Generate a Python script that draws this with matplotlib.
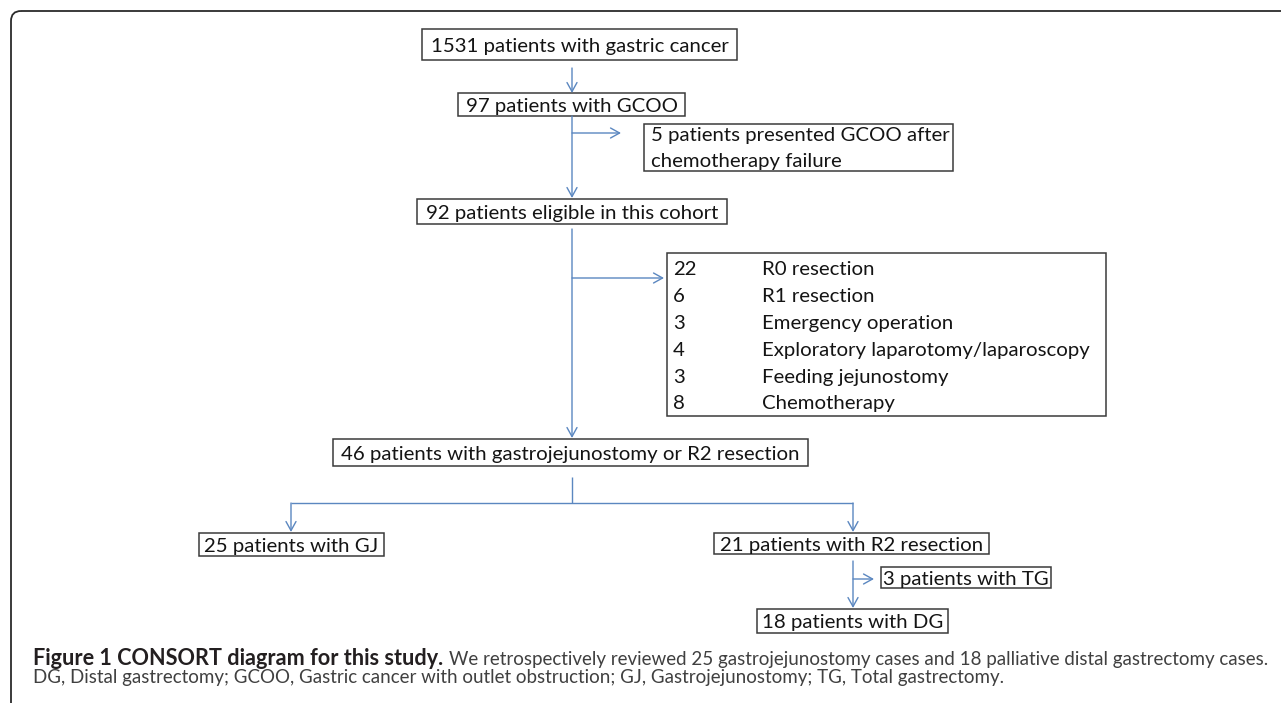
import matplotlib
matplotlib.use("Agg")
import matplotlib.pyplot as plt
from matplotlib.patches import Rectangle, FancyBboxPatch, FancyArrowPatch

# ---------------- data ----------------
total_patients = 1531
gcoo_patients = 97
chemo_failure_patients = 5
eligible_patients = 92
gj_or_r2_patients = 46
gj_patients = 25
r2_patients = 21
tg_patients = 3
dg_patients = 18
excluded_counts = [22, 6, 3, 4, 3, 8]
excluded_reasons = ["R0 resection", "R1 resection", "Emergency operation",
                    "Exploratory laparotomy/laparoscopy", "Feeding jejunostomy",
                    "Chemotherapy"]
caption_bold = "Figure 1 CONSORT diagram for this study."
caption_rest = ("We retrospectively reviewed 25 gastrojejunostomy cases and "
                "18 palliative distal gastrectomy cases.")
caption_line2 = ("DG, Distal gastrectomy; GCOO, Gastric cancer with outlet obstruction; "
                 "GJ, Gastrojejunostomy; TG, Total gastrectomy.")

# ---------------- figure ----------------
W, H = 1281, 703
fig = plt.figure(figsize=(W / 100, H / 100), dpi=100)
ax = fig.add_axes([0, 0, 1, 1])
ax.set_xlim(0, W)
ax.set_ylim(H, 0)
ax.axis("off")
renderer = fig.canvas.get_renderer()

BOX_FONT = "Lato"
CAP_FONT = "Lato"
BOX_EC = "#3a3a3a"
ARROW_C = "#5b87c0"
TEXT_C = "#141414"


def text_width(s, size, family, weight="normal"):
    t = ax.text(0, 0, s, fontsize=size, family=family, weight=weight)
    w = t.get_window_extent(renderer).width
    t.remove()
    return w


# outer frame (rounded top-left corner, right/bottom run off the page)
frame = FancyBboxPatch((11, 11), 1320, 730,
                       boxstyle="round,pad=0,rounding_size=10",
                       fc="none", ec="#2b2b2b", lw=1.3)
ax.add_patch(frame)

# font size for boxes fitted on first box text width
t1 = f"{total_patients} patients with gastric cancer"
fs = 20 * 298 / text_width(t1, 20, BOX_FONT)
cap_px = 0.72 * fs * 100 / 72


def box(x0, y0, x1, y1, label=None):
    ax.add_patch(Rectangle((x0, y0), x1 - x0, y1 - y0, fc="white",
                           ec=BOX_EC, lw=1.1))
    if label is not None:
        ax.text((x0 + x1) / 2, (y0 + y1) / 2 + cap_px / 2, label,
                fontsize=fs, family=BOX_FONT, color=TEXT_C,
                ha="center", va="baseline")


def arrow(p0, p1):
    ax.add_patch(FancyArrowPatch(p0, p1,
                                 arrowstyle="->,head_length=0.65,head_width=0.36",
                                 mutation_scale=10, color=ARROW_C, lw=1.0,
                                 shrinkA=0, shrinkB=0))


def line(p0, p1):
    ax.plot([p0[0], p1[0]], [p0[1], p1[1]], color=ARROW_C, lw=1.0,
            solid_capstyle="butt")


# boxes
box(422, 29, 737, 60, t1)
box(458, 93, 685, 116, f"{gcoo_patients} patients with GCOO")
box(644, 124, 953, 171)
ax.text(651, 134 + cap_px / 2,
        f"{chemo_failure_patients} patients presented GCOO after",
        fontsize=fs, family=BOX_FONT, color=TEXT_C, va="baseline")
ax.text(651, 160 + cap_px / 2, "chemotherapy failure",
        fontsize=fs, family=BOX_FONT, color=TEXT_C, va="baseline")
box(417, 199, 727, 224, f"{eligible_patients} patients eligible in this cohort")

box(667, 253, 1106, 416)
row_y0, row_dy = 268, 26.8
for i, (n, reason) in enumerate(zip(excluded_counts, excluded_reasons)):
    y = row_y0 + i * row_dy + cap_px / 2
    ax.text(673, y, str(n), fontsize=fs, family=BOX_FONT, color=TEXT_C,
            va="baseline")
    ax.text(762, y, reason, fontsize=fs, family=BOX_FONT, color=TEXT_C,
            va="baseline")

box(333, 439, 808, 466,
    f"{gj_or_r2_patients} patients with gastrojejunostomy or R2 resection")
box(199, 533, 384, 556, f"{gj_patients} patients with GJ")
box(714, 533, 989, 554, f"{r2_patients} patients with R2 resection")
box(881, 567, 1051, 588, f"{tg_patients} patients with TG")
box(757, 609, 948, 633, f"{dg_patients} patients with DG")

# connectors
arrow((572, 68), (572, 93))
arrow((572, 116), (572, 198))
arrow((572, 133), (621, 133))
arrow((572, 229), (572, 438))
arrow((572, 278), (664, 278))
line((572, 477), (572, 503))
line((291, 503), (853, 503))
arrow((291, 503), (291, 532))
arrow((853, 503), (853, 532))
arrow((853, 561), (853, 608))
arrow((853, 579), (874, 579))

# caption: regular size fitted from both regular runs, bold fitted to its span
w2 = text_width(caption_line2, 20, CAP_FONT)
wr = text_width(caption_rest, 20, CAP_FONT)
rfs = 0.5 * (20 * 977 / w2 + 20 * 818 / wr)
wb = text_width(caption_bold, 20, CAP_FONT, "bold")
bfs = 20 * 410 / wb
ax.text(33, 665, caption_bold, fontsize=bfs, family=CAP_FONT,
        weight="bold", color="#231f20", va="baseline")
ax.text(1268, 665, caption_rest, fontsize=rfs, family=CAP_FONT,
        color="#404040", va="baseline", ha="right")
ax.text(33, 683, caption_line2, fontsize=rfs, family=CAP_FONT,
        color="#404040", va="baseline")

fig.savefig("out.png", dpi=100)
